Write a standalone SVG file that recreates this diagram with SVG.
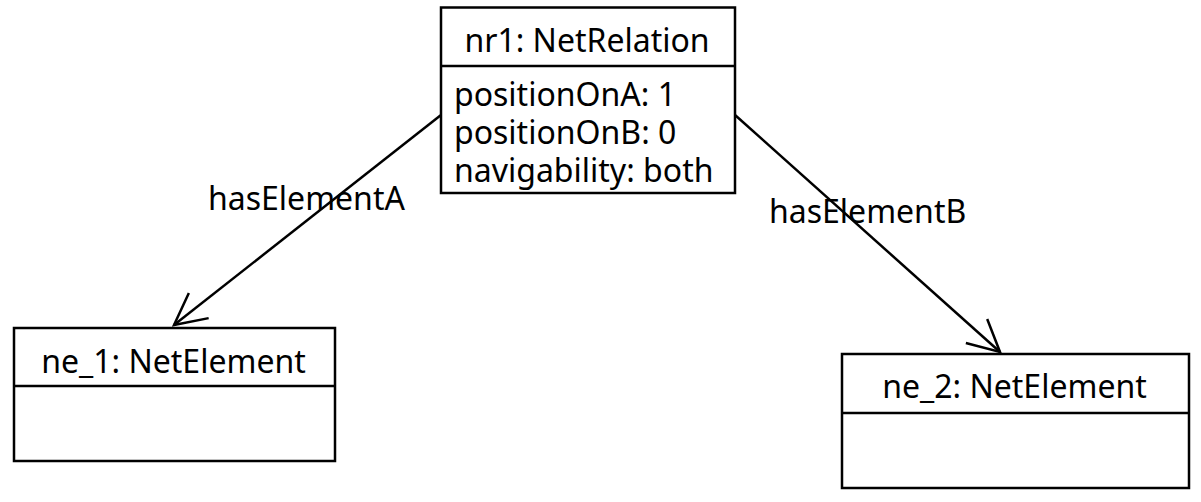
<svg xmlns="http://www.w3.org/2000/svg" width="1201" height="502" viewBox="0 0 1201 502">
<style>
.box{fill:#fff;stroke:#000;stroke-width:2.5}
.div{stroke:#000;stroke-width:2.5}
.t{font-family:"Noto Sans","Open Sans",sans-serif;font-size:32px;fill:#000}
.c{text-anchor:middle}
.edge{stroke:#000;stroke-width:2.5;fill:none}
</style>
<defs>
<marker id="open" markerUnits="userSpaceOnUse" orient="auto" refX="0" refY="0" markerWidth="40" markerHeight="40" viewBox="-36 -20 40 40" overflow="visible">
<path d="M-31.5,-16 L0,0 L-31.5,16" fill="none" stroke="#000" stroke-width="2.5"/>
</marker>
</defs>
<g id="connectors">
<line class="edge" x1="441" y1="115" x2="174" y2="325" marker-end="url(#open)"/>
<text class="t" x="208" y="210">hasElementA</text>
<line class="edge" x1="735" y1="115" x2="1000" y2="352" marker-end="url(#open)"/>
<text class="t" x="769" y="223">hasElementB</text>
</g>
<g id="nr1">
<rect class="box" x="441" y="7.5" width="294" height="185.5"/>
<line class="div" x1="441" y1="66" x2="735" y2="66"/>
<text class="t c" x="587" y="52">nr1: NetRelation</text>
<text class="t" x="454" y="106">positionOnA: 1</text>
<text class="t" x="454" y="144">positionOnB: 0</text>
<text class="t" x="454" y="182">navigability: both</text>
</g>
<g id="ne_1">
<rect class="box" x="14" y="328" width="321" height="133"/>
<line class="div" x1="14" y1="386" x2="335" y2="386"/>
<text class="t c" x="173.5" y="372.5">ne_1: NetElement</text>
</g>
<g id="ne_2">
<rect class="box" x="842" y="354" width="347" height="134"/>
<line class="div" x1="842" y1="413" x2="1189" y2="413"/>
<text class="t c" x="1014.5" y="397.5">ne_2: NetElement</text>
</g>
</svg>
